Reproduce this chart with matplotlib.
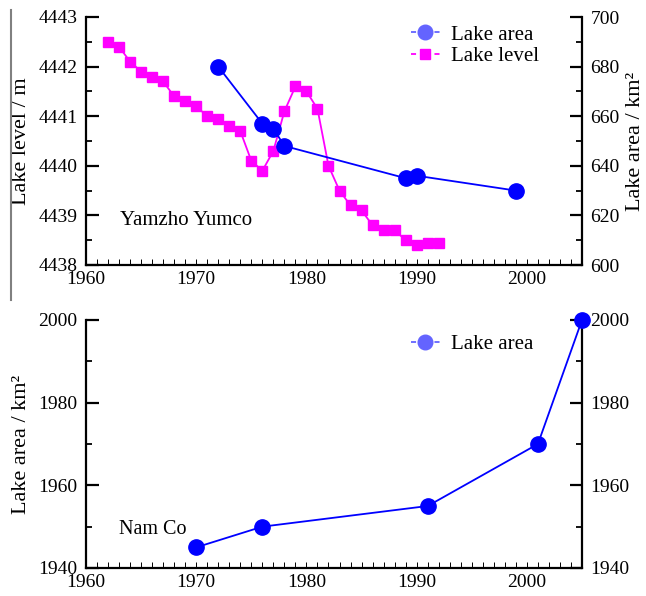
import matplotlib
matplotlib.use("Agg")
import matplotlib.pyplot as plt
from matplotlib.lines import Line2D
from matplotlib.ticker import MultipleLocator, FormatStrFormatter

plt.rcParams['font.family'] = ['Liberation Serif', 'DejaVu Serif']

# --- Data ---
level_years = list(range(1962, 1993))
level_values = [4442.5, 4442.4, 4442.1, 4441.9, 4441.8, 4441.7, 4441.4, 4441.3, 4441.2,
                4441.0, 4440.95, 4440.8, 4440.7, 4440.1, 4439.9, 4440.3, 4441.1, 4441.6,
                4441.5, 4441.15, 4440.0, 4439.5, 4439.2, 4439.1, 4438.8, 4438.7, 4438.7,
                4438.5, 4438.4, 4438.45, 4438.45]
yam_area_years = [1972, 1976, 1977, 1978, 1989, 1990, 1999]
yam_area_values = [680, 657, 655, 648, 635, 636, 630]
nam_years = [1970, 1976, 1991, 2001, 2005]
nam_area_values = [1945, 1950, 1955, 1970, 2000]

BLUE = '#0000ff'
MAG = '#ff00ff'
LEG_BLUE = '#6464ff'
FS = 14
LFS = 16
DASH = (0, (2.8, 10.2))

fig = plt.figure(figsize=(6.46, 5.96), dpi=100)

# ---------- Top panel ----------
ax1 = fig.add_axes([86/646, 1-265/596, 496/646, 248/596])
ax1.set_xlim(1960, 2005)
ax1.set_ylim(4438, 4443)
for s in ['top', 'right']:
    ax1.spines[s].set_visible(False)
ax1.spines['left'].set_linewidth(1.6)
ax1.spines['bottom'].set_linewidth(1.6)
ax1.xaxis.set_major_locator(MultipleLocator(10))
ax1.xaxis.set_minor_locator(MultipleLocator(1))
ax1.yaxis.set_major_locator(MultipleLocator(1))
ax1.yaxis.set_minor_locator(MultipleLocator(0.5))
ax1.yaxis.set_major_formatter(FormatStrFormatter('%d'))
ax1.tick_params(axis='y', which='major', direction='in', length=9, width=1.6, pad=6, labelsize=FS)
ax1.tick_params(axis='y', which='minor', direction='in', length=4.5, width=1.3)
ax1.tick_params(axis='x', which='both', direction='in', length=4, width=0.7, pad=4, labelsize=FS)
ax1.plot(level_years, level_values, color=MAG, marker='s', ms=7.5, lw=1.3, zorder=3)
ax1.set_ylabel('Lake level / m', fontsize=LFS)
ax1.yaxis.set_label_coords(-0.111, 0.5)
ax1.text(1963.1, 4438.9, 'Yamzho Yumco', fontsize=15, ha='left', va='center')

ax1r = ax1.twinx()
ax1r.set_ylim(600, 700)
for s in ['top', 'left', 'bottom']:
    ax1r.spines[s].set_visible(False)
ax1r.spines['right'].set_linewidth(1.6)
ax1r.yaxis.set_major_locator(MultipleLocator(20))
ax1r.yaxis.set_minor_locator(MultipleLocator(10))
ax1r.tick_params(axis='y', which='major', direction='in', length=9, width=1.6, pad=6, labelsize=FS)
ax1r.tick_params(axis='y', which='minor', direction='in', length=4.5, width=1.3)
ax1r.plot(yam_area_years, yam_area_values, color=BLUE, marker='o', ms=11, lw=1.3, zorder=4)
ax1r.set_ylabel('Lake area / km²', fontsize=LFS)
ax1r.yaxis.set_label_coords(1.088, 0.5)

h_area = Line2D([], [], color=LEG_BLUE, ls=DASH, marker='o', ms=10.5, lw=1.3)
h_level = Line2D([], [], color=MAG, ls=DASH, marker='s', ms=7.5, lw=1.3)
ax1r.legend([h_area, h_level], ['Lake area', 'Lake level'], loc='upper left',
            bbox_to_anchor=(0.655, 0.968), frameon=False, fontsize=15,
            handlelength=1.4, handletextpad=0.53, borderpad=0, borderaxespad=0,
            labelspacing=0.1)

# ---------- Bottom panel ----------
ax2 = fig.add_axes([86/646, 1-568/596, 496/646, 248/596])
ax2.set_xlim(1960, 2005)
ax2.set_ylim(1940, 2000)
ax2.spines['top'].set_visible(False)
for s in ['left', 'bottom', 'right']:
    ax2.spines[s].set_linewidth(1.6)
ax2.xaxis.set_major_locator(MultipleLocator(10))
ax2.xaxis.set_minor_locator(MultipleLocator(1))
ax2.yaxis.set_major_locator(MultipleLocator(20))
ax2.yaxis.set_minor_locator(MultipleLocator(10))
ax2.tick_params(axis='y', which='major', direction='in', length=9, width=1.6, pad=6,
                labelsize=FS, right=True, labelright=True)
ax2.tick_params(axis='y', which='minor', direction='in', length=4.5, width=1.3, right=True)
ax2.tick_params(axis='x', which='both', direction='in', length=4, width=0.7, pad=4, labelsize=FS)
ax2.plot(nam_years, nam_area_values, color=BLUE, marker='o', ms=11, lw=1.3, zorder=4, clip_on=False)
ax2.set_ylabel('Lake area / km²', fontsize=LFS)
ax2.yaxis.set_label_coords(-0.111, 0.5)
ax2.text(1963.0, 1949.2, 'Nam Co', fontsize=14.5, ha='left', va='center')
h_area2 = Line2D([], [], color=LEG_BLUE, ls=DASH, marker='o', ms=10.5, lw=1.3)
ax2.legend([h_area2], ['Lake area'], loc='upper left', bbox_to_anchor=(0.655, 0.94),
           frameon=False, fontsize=15, handlelength=1.4, handletextpad=0.53,
           borderpad=0, borderaxespad=0)

# thin gray vertical rule at far left
fig.add_artist(Line2D([11/646, 11/646], [1-10/596, 1-300/596], color='#808080', lw=1.5))

fig.savefig('out.png', dpi=100)
